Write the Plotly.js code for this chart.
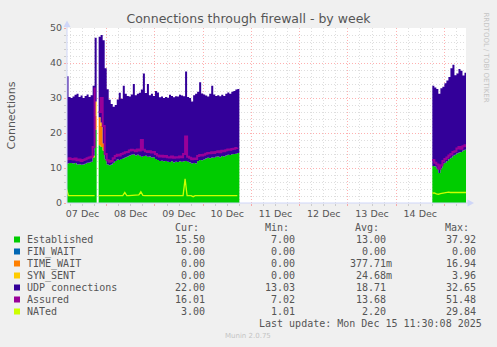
<!DOCTYPE html>
<html><head><meta charset="utf-8">
<script src="https://cdn.plot.ly/plotly-3.0.1.min.js"></script>
<style>html,body{margin:0;padding:0;background:#f0f0f0;}#chart{width:497px;height:347px;}</style>
</head><body><div id="chart"></div>
<script>
// ---- data (hourly samples) ----
const seg1Start = '2025-12-07T04:00:00';   // first block of samples
const seg2Start = '2025-12-14T18:00:00';   // second block of samples
const gapTimes = ['2025-12-10T18:00:00', '2025-12-14T17:00:00']; // no data between

const established1 = [11.2,11.4,11.4,11.3,11.4,11.0,11.1,10.9,11.0,11.2,
 11.5,11.6,11.8,13.0,21.0,null,16.5,16.0,15.0,12.5,
 11.0,10.8,11.0,11.5,12.0,12.4,12.3,12.6,12.8,13.1,
 13.3,13.6,13.8,13.9,13.6,13.8,13.5,13.2,13.4,13.5,
 13.2,13.3,13.0,13.1,12.6,12.3,12.0,12.1,11.9,12.0,
 11.8,11.7,11.9,11.6,11.8,11.7,11.9,11.8,11.9,12.0,
 11.8,11.6,11.3,11.4,11.3,12.0,12.3,12.2,12.4,12.7,
 12.9,12.8,13.0,12.9,13.2,13.3,13.1,13.4,13.3,13.6,
 13.8,13.7,13.9,14.0,14.1,14.3];
const finWait1 = [0,0,0,0,0,0,0,0,0,0, 0,0,0,0,0,null,0,0,0,0, 0,0,0,0,0,0,0,0,0,0,
 0,0,0,0,0,0,0,0,0,0, 0,0,0,0,0,0,0,0,0,0, 0,0,0,0,0,0,0,0,0,0,
 0,0,0,0,0,0,0,0,0,0, 0,0,0,0,0,0,0,0,0,0, 0,0,0,0,0,0];
const timeWait1 = [0,0,0,0,0,0,0,0,0,0, 0,0,0,0.5,4.0,null,8.0,6.0,2.0,0, 0,0,0,0,0,0,0,0,0,0,
 0,0,0,0,0,0,0,0,0,0, 0,0,0,0,0,0,0,0,0,0, 0,0,0,0,0,0,0,0,0,0,
 0,0,0,0,0,0,0,0,0,0, 0,0,0,0,0,0,0,0,0,0, 0,0,0,0,0,0];
const synSent1 = [0,0,0,0,0,0,0,0,0,0, 0,0,0,0,4.0,null,0,1.0,0,0, 0,0,0,0,0,0,0,0,0,0,
 0,0,0,0,0,0,0,0,0,0, 0,0,0,0,0,0,0,0,0,0, 0,0,0,0,0,0,0,0,0,0,
 0,0,0,0,0,0,0,0,0,0, 0,0,0,0,0,0,0,0,0,0, 0,0,0,0,0,0];
const udp1 = [25.0,18.9,18.6,19.1,19.5,20.2,19.2,19.8,19.0,19.4,
 19.5,18.7,19.0,20.0,18.2,null,23.0,25.0,29.5,26.0,
 21.5,18.7,17.3,16.0,16.0,17.2,19.2,17.2,20.7,18.1,
 17.3,16.8,17.2,20.1,17.2,17.4,18.0,19.2,23.6,17.9,
 20.8,17.5,18.2,17.5,19.4,19.3,18.2,18.3,18.1,18.3,
 18.3,19.2,18.7,18.6,18.7,18.7,19.0,18.9,18.6,25.6,
 18.5,18.4,17.7,19.4,19.9,19.8,22.2,19.1,18.6,18.0,
 17.5,18.4,20.5,18.1,17.4,17.5,17.4,17.5,17.3,17.6,
 17.8,17.5,17.9,18.0,18.3,18.3];
const assured1 = [12.5,12.8,12.6,12.4,12.7,12.2,12.4,12.0,12.3,12.5,
 12.8,13.0,13.2,16.0,33.0,null,26.0,30.0,22.0,14.0,
 12.2,11.8,12.0,12.8,13.4,13.8,13.6,14.0,14.2,14.5,
 14.6,15.0,15.2,15.1,14.8,15.3,15.0,18.0,15.2,14.8,
 14.6,14.8,14.4,14.6,14.0,13.6,13.3,13.5,13.2,13.4,
 13.1,13.0,13.3,12.9,13.1,13.0,13.3,13.1,14.0,19.0,
 13.2,12.9,12.5,12.7,12.6,13.4,13.7,13.6,13.8,14.1,
 14.3,14.2,14.5,14.3,14.6,14.8,14.5,14.9,14.8,15.1,
 15.3,15.2,15.4,15.5,15.7,15.8];
const nated1 = [4.0,2.1,2.1,2.1,2.1,2.1,2.1,2.1,2.1,2.1,
 2.1,2.1,2.1,2.1,2.1,null,2.1,2.1,2.1,2.1,
 2.1,2.1,2.1,2.1,2.1,2.2,2.1,2.1,2.1,3.0,
 2.1,2.1,2.1,2.1,2.1,2.1,2.3,3.2,2.2,2.1,
 2.1,2.1,2.1,2.1,2.1,2.1,2.1,2.1,2.1,2.1,
 2.1,2.1,2.1,2.1,2.1,2.1,2.1,2.1,2.1,6.9,
 2.1,2.1,2.1,1.8,2.1,2.1,2.1,2.1,2.1,2.1,
 2.1,2.1,2.1,2.1,2.1,2.1,2.1,2.1,2.1,2.1,
 2.1,2.1,2.1,2.1,2.1,2.1];

const established2 = [10.6,10.4,9.8,8.6,9.9,11.2,11.5,12.0,12.6,12.9,13.5,13.8,14.2,14.4,14.6,15.0,15.2,15.5];
const finWait2     = [0,0,0,0,0,0,0,0,0,0,0,0,0,0,0,0,0,0];
const timeWait2    = [0,0,0,0,0,0,0,0,0,0,0,0,0,0,0,0,0,0];
const synSent2     = [0,0,0,0,0,0,0,0,0,0,0,0,0,0,0,0,0,0];
const udp2         = [22.9,22.6,22.8,22.6,22.9,22.0,22.7,23.0,23.4,25.6,26.0,22.7,22.8,23.9,23.2,21.4,22.0,22.0];
const assured2     = [12.3,11.5,11.0,9.8,10.8,12.0,12.6,13.0,13.6,14.0,14.6,14.8,15.6,16.0,15.5,16.2,16.5,16.0];
const nated2       = [2.8,2.9,2.6,2.5,2.7,2.8,3.0,3.0,3.1,3.0,3.0,3.0,3.0,3.0,3.0,3.0,3.0,3.0];

// legend table
const seriesNames  = ['Established','FIN_WAIT','TIME_WAIT','SYN_SENT','UDP connections','Assured','NATed'];
const seriesColors = ['#00CC00','#0066B3','#FF8000','#FFCC00','#330099','#990099','#CCFF00'];
const curVals = ['15.50','0.00','0.00','0.00','22.00','16.01','3.00'];
const minVals = ['7.00','0.00','0.00','0.00','13.03','7.02','1.01'];
const avgVals = ['13.00','0.00','377.71m','24.68m','18.71','13.68','2.20'];
const maxVals = ['37.92','0.00','16.94','3.96','32.65','51.48','29.84'];
const statHeaders = ['Cur:','Min:','Avg:','Max:'];
const chartTitle = 'Connections through firewall - by week';
const yTitle = 'Connections';
const lastUpdate = 'Last update: Mon Dec 15 11:30:08 2025';
const footer = 'Munin 2.0.75';
const sideText = 'RRDTOOL / TOBI OETIKER';

// ---- build time axis ----
function hourly(start, n) {
  const t0 = Date.parse(start + 'Z');
  const out = [];
  for (let i = 0; i < n; i++) out.push(new Date(t0 + i * 3600000).toISOString().slice(0, 19));
  return out;
}
const times = [...hourly(seg1Start, established1.length), ...gapTimes, ...hourly(seg2Start, established2.length)];
const join = (a, b) => [...a, null, null, ...b];
const zeroFill = arr => arr.map(v => v == null ? 0 : v);

const areaSeries = [
  [established1, established2],
  [finWait1, finWait2],
  [timeWait1, timeWait2],
  [synSent1, synSent2],
  [udp1, udp2]
];
const traces = [];
areaSeries.forEach((s, k) => {
  traces.push({
    x: times, y: zeroFill(join(s[0], s[1])), type: 'scatter', mode: 'lines',
    stackgroup: 'conn', line: {width: 0, shape: 'hv'},
    fillcolor: seriesColors[k], hoverinfo: 'skip'
  });
});
traces.push({x: times, y: join(assured1, assured2), type: 'scatter', mode: 'lines',
  line: {color: seriesColors[5], width: 2, shape: 'hv'}, connectgaps: false, hoverinfo: 'skip'});
traces.push({x: times, y: join(nated1, nated2), type: 'scatter', mode: 'lines',
  line: {color: seriesColors[6], width: 1.3, shape: 'linear'}, connectgaps: false, hoverinfo: 'skip'});

// ---- layout helpers (pixel -> paper) ----
const L = 67, R = 466, T = 28, B = 203;
const px = x => (x - L) / (R - L);
const py = y => (B - y) / (B - T);
const textCol = '#555';
const mono = {family: 'DejaVu Sans Mono', size: 10, color: textCol};
const annotations = [];
const shapes = [];
function addText(text, x, y, anchor, font, extra) {
  annotations.push(Object.assign({text: text, xref: 'paper', yref: 'paper', x: px(x), y: py(y),
    xanchor: anchor, yanchor: 'middle', showarrow: false, font: font, borderpad: 0}, extra || {}));
}
const fmt = v => /[a-zA-Z]$/.test(v) ? v : v + '\u00a0';

const headerY = 227.3, rowY0 = 239.5, rowStep = 12;
const colRight = [212, 302, 393, 483];
const headerRight = [200, 290, 380, 470];
statHeaders.forEach((h, c) => addText(h, headerRight[c], headerY, 'right', mono));
seriesNames.forEach((n, k) => {
  const y = rowY0 + k * rowStep;
  shapes.push({type: 'rect', xref: 'paper', yref: 'paper', x0: px(14), x1: px(20), y0: py(y + 3), y1: py(y - 3),
    fillcolor: seriesColors[k], line: {width: 0}});
  addText(n, 26, y, 'left', mono);
  [curVals, minVals, avgVals, maxVals].forEach((arr, c) => addText(fmt(arr[k]), colRight[c], y, 'right', mono));
});
addText(lastUpdate, 483, 323.7, 'right', mono);
addText(footer, 248, 336, 'center', {family: 'DejaVu Sans', size: 7, color: '#c4c4c4'});
addText(sideText, 486, 57.5, 'center', {family: 'DejaVu Sans', size: 7, color: '#c4c4c4'}, {textangle: 90});
addText(yTitle, 11, 115.5, 'center', {family: 'DejaVu Sans', size: 11, color: textCol}, {textangle: -90});

// axis arrows / extensions
const axisCol = '#CFD6F8';
shapes.push({type: 'line', xref: 'paper', yref: 'paper', x0: px(67), x1: px(67), y0: py(B), y1: py(24), line: {color: axisCol, width: 1}});
shapes.push({type: 'line', xref: 'paper', yref: 'paper', x0: px(67), x1: px(469), y0: py(203), y1: py(203), line: {color: axisCol, width: 1}});
shapes.push({type: 'path', xref: 'paper', yref: 'paper',
  path: `M ${px(67)},${py(20.5)} L ${px(63.5)},${py(27)} L ${px(70.5)},${py(27)} Z`, fillcolor: axisCol, line: {width: 0}});
shapes.push({type: 'path', xref: 'paper', yref: 'paper',
  path: `M ${px(474)},${py(203)} L ${px(467.5)},${py(199.5)} L ${px(467.5)},${py(206.5)} Z`, fillcolor: axisCol, line: {width: 0}});

const majorGrid = 'rgba(255,80,80,0.45)';
const minorGrid = '#dedede';
const layout = {
  width: 497, height: 347,
  margin: {l: 67, r: 31, t: 28, b: 144, pad: 0},
  paper_bgcolor: '#f0f0f0', plot_bgcolor: '#ffffff', showlegend: false,
  font: {family: 'DejaVu Sans', color: textCol, size: 9.5},
  title: {text: chartTitle, font: {family: 'DejaVu Sans', size: 12.5, color: textCol},
    xref: 'container', x: 248.5 / 497, xanchor: 'center', yref: 'container', y: 1 - 19 / 347, yanchor: 'middle'},
  xaxis: {type: 'date', range: ['2025-12-07 04:15', '2025-12-15 10:45'],
    tickmode: 'linear', tick0: '2025-12-07', dtick: 86400000, tickformat: '%d %b', ticklabelmode: 'period',
    showgrid: true, gridcolor: majorGrid, griddash: '1px,2px', gridwidth: 1,
    ticks: 'outside', ticklen: 2, tickcolor: majorGrid, showline: false, zeroline: false,
    tickfont: {family: 'DejaVu Sans', size: 9.5, color: textCol},
    minor: {tickmode: 'linear', tick0: '2025-12-07', dtick: 21600000, showgrid: true, gridcolor: minorGrid,
      griddash: '1px,2px', ticks: 'outside', ticklen: 2, tickcolor: '#cccccc'},
    fixedrange: true},
  yaxis: {range: [0, 50], tickmode: 'linear', tick0: 0, dtick: 10,
    showgrid: true, gridcolor: majorGrid, griddash: '1px,2px', gridwidth: 1,
    ticks: 'outside', ticklen: 2, tickcolor: majorGrid, showline: false, zeroline: false,
    tickfont: {family: 'DejaVu Sans', size: 9.5, color: textCol},
    minor: {tickmode: 'linear', tick0: 0, dtick: 2, showgrid: true, gridcolor: minorGrid,
      griddash: '1px,2px', ticks: 'outside', ticklen: 2, tickcolor: '#cccccc'},
    fixedrange: true},
  annotations: annotations,
  shapes: shapes
};
Plotly.newPlot('chart', traces, layout, {displayModeBar: false, staticPlot: true});
</script>
</body></html>
